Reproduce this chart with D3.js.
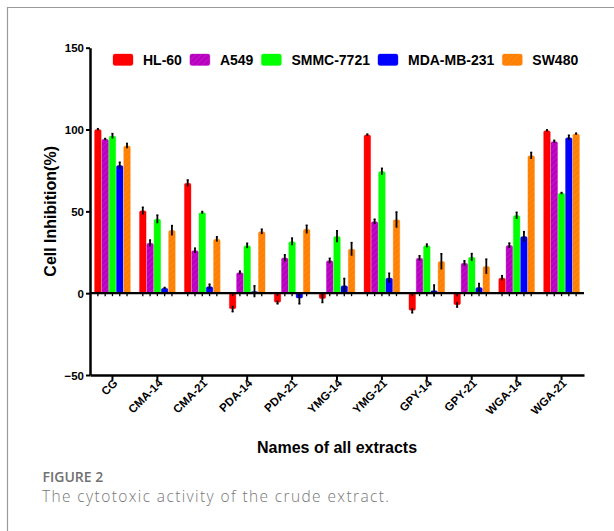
<!DOCTYPE html>
<html>
<head>
<meta charset="utf-8">
<script src="https://cdn.jsdelivr.net/npm/d3@7"></script>
<style>
  html, body { margin: 0; padding: 0; background: #fff; }
  svg { display: block; }
  .axis text { font-family: "Liberation Sans", Arial, sans-serif; font-weight: bold; font-size: 11.5px; fill: #000; }
  .axis path, .axis line { stroke: #000; }
</style>
</head>
<body>
<div id="chart"></div>
<script>
!(function(){
    "use strict"

    // data
    var categories = ["CG","CMA-14","CMA-21","PDA-14","PDA-21","YMG-14","YMG-21","GPY-14","GPY-21","WGA-14","WGA-21"]
    var series = ["HL-60","A549","SMMC-7721","MDA-MB-231","SW480"]
    var colors = ["#ff0000","#b900c0","#00ff00","#0000ff","#ff8000"]

    var hl60     = [100, 50.3, 67.2, -9.5, -5.5, -3.2, 96.7, -10.5, -7, 9.2, 99.3]
    var hl60Err  = [0.5, 2.2, 2, 1.8, 1, 2.5, 0.5, 1.5, 1.5, 1.5, 0.5]
    var a549     = [94, 30.5, 26, 12.5, 21.5, 19.8, 43.7, 21.4, 18.3, 29.1, 92.6]
    var a549Err  = [0.5, 2, 1.5, 1, 2, 1.5, 1.5, 1.5, 1.5, 1.5, 0.8]
    var smmc     = [96, 45.2, 49.2, 29, 31.5, 34.6, 74.3, 29, 22, 47.4, 61]
    var smmcErr  = [1.5, 2.5, 0.7, 1.5, 2.2, 3.5, 2, 1, 2.2, 2, 0.5]
    var mda      = [78, 3, 4, 1, -3, 4.5, 9.2, 1.5, 3.4, 34.6, 95]
    var mdaErr   = [2, 0.5, 1.5, 3.5, 3.5, 4.5, 3, 3.5, 2.5, 3, 1.5]
    var sw480    = [90, 38.3, 33, 37.6, 39, 26.9, 44.8, 19.3, 16.3, 84, 97.3]
    var sw480Err = [1.5, 3, 1.5, 1.5, 2.5, 4, 4.8, 4.8, 4.5, 2, 0.5]

    var yTicks = [-50, 0, 50, 100, 150]

    var values = [hl60, a549, smmc, mda, sw480]
    var errors = [hl60Err, a549Err, smmcErr, mdaErr, sw480Err]

    var width = 614, height = 531
    var svg = d3.select("#chart").append("svg")
        .attr("width", width).attr("height", height)

    // pattern for hatched bars
    var defs = svg.append("defs")
    function hatch(id, base, stripe) {
        var p = defs.append("pattern")
            .attr("id", id)
            .attr("patternUnits", "userSpaceOnUse")
            .attr("width", 4).attr("height", 4)
            .attr("patternTransform", "rotate(45)")
        p.append("rect").attr("width", 4).attr("height", 4).attr("fill", base)
        p.append("line").attr("x1", 0).attr("y1", 0).attr("x2", 0).attr("y2", 4)
            .attr("stroke", stripe).attr("stroke-width", 1)
    }
    hatch("hatch-a549", colors[1], "#c330c8")
    hatch("hatch-sw480", colors[4], "#ff9533")
    var fills = [colors[0], "url(#hatch-a549)", colors[2], colors[3], "url(#hatch-sw480)"]

    // frame
    svg.append("path")
        .attr("d", "M7.5," + height + "V7.5H" + width)
        .attr("fill", "none")
        .attr("stroke", "#9a9a9a")
        .attr("stroke-width", 1.2)

    var x = d3.scaleBand().domain(categories).range([90, 584])
    var x1 = d3.scaleBand().domain(series).range([4.6, x.bandwidth() - 4.6]).paddingInner(0.1)
    var y = d3.scaleLinear().domain([-50, 150]).range([375, 47.7])

    var rows = []
    categories.forEach(function(c, i) {
        series.forEach(function(s, j) {
            rows.push({cat: c, ser: s, j: j, v: values[j][i], e: errors[j][i]})
        })
    })

    var chartLayer = svg.append("g")

    // bars
    chartLayer.selectAll(".bar")
        .data(rows)
        .enter().append("rect")
        .attr("class", "bar")
        .attr("x", function(d) { return x(d.cat) + x1(d.ser) })
        .attr("width", x1.bandwidth())
        .attr("y", function(d) { return y(Math.max(0, d.v)) })
        .attr("height", function(d) { return Math.abs(y(d.v) - y(0)) })
        .attr("rx", 1.5)
        .attr("fill", function(d) { return fills[d.j] })
        .attr("stroke", function(d) { return colors[d.j] })
        .attr("stroke-opacity", 0.45)
        .attr("stroke-width", 0.8)

    // error bars
    var eb = chartLayer.selectAll(".err")
        .data(rows)
        .enter().append("g")
        .attr("class", "err")
        .attr("transform", function(d) { return "translate(" + (x(d.cat) + x1(d.ser) + x1.bandwidth() / 2) + ",0)" })
    eb.append("line")
        .attr("y1", function(d) { return y(d.v + d.e) })
        .attr("y2", function(d) { return y(d.v - d.e) })
        .attr("stroke", "#000").attr("stroke-width", 1.8)
    eb.append("line")
        .attr("x1", -1).attr("x2", 1)
        .attr("y1", function(d) { return y(d.v + (d.v >= 0 ? d.e : -d.e)) })
        .attr("y2", function(d) { return y(d.v + (d.v >= 0 ? d.e : -d.e)) })
        .attr("stroke", "#000").attr("stroke-width", 1.5)
    // small marks under the zero line
    eb.append("line")
        .attr("y1", y(0)).attr("y2", y(0) + 3)
        .attr("stroke", "#000").attr("stroke-width", 1.3)

    // zero line
    chartLayer.append("line")
        .attr("x1", 90).attr("x2", 584)
        .attr("y1", y(0)).attr("y2", y(0))
        .attr("stroke", "#000").attr("stroke-width", 2.2)

    // axes
    var yAxis = svg.append("g").attr("class", "axis")
        .attr("transform", "translate(90,0)")
        .call(d3.axisLeft(y).tickValues(yTicks).tickSize(4).tickSizeOuter(0).tickPadding(2))
    yAxis.select(".domain").attr("stroke-width", 2.5)
    yAxis.selectAll(".tick line").attr("stroke-width", 2)
    yAxis.selectAll(".tick text").attr("dy", "0.36em")

    var xAxis = svg.append("g").attr("class", "axis")
        .attr("transform", "translate(0,375)")
        .call(d3.axisBottom(x).tickSize(5).tickSizeOuter(0))
    xAxis.select(".domain").attr("stroke-width", 2.5)
    xAxis.selectAll(".tick line").attr("stroke-width", 2)
    xAxis.selectAll(".tick text")
        .attr("text-anchor", "end")
        .attr("transform", "translate(3,6) rotate(-45)")
        .attr("x", 0).attr("y", 0).attr("dy", "0.35em")

    // axis titles
    svg.append("text")
        .attr("transform", "translate(56," + ((y(150) + y(-50)) / 2) + ") rotate(-90)")
        .attr("text-anchor", "middle")
        .style("font-family", "'Liberation Sans', Arial, sans-serif")
        .style("font-weight", "bold").style("font-size", "16px")
        .text("Cell Inhibition(%)")

    svg.append("text")
        .attr("x", (90 + 584) / 2).attr("y", 453)
        .attr("text-anchor", "middle")
        .style("font-family", "'Liberation Sans', Arial, sans-serif")
        .style("font-weight", "bold").style("font-size", "16px")
        .text("Names of all extracts")

    // legend
    var legend = svg.append("g").attr("transform", "translate(113,54)")
    var lx = 0
    series.forEach(function(s, j) {
        var item = legend.append("g").attr("transform", "translate(" + lx + ",0)")
        item.append("rect")
            .attr("width", 20).attr("height", 11.5).attr("rx", 2)
            .attr("fill", fills[j])
            .attr("stroke", colors[j]).attr("stroke-opacity", 0.4).attr("stroke-width", 0.8)
        var t = item.append("text")
            .attr("x", 30).attr("y", 11)
            .style("font-family", "'Liberation Sans', Arial, sans-serif")
            .style("font-weight", "bold").style("font-size", "14px")
            .text(s)
        lx += 30 + t.node().getComputedTextLength() + 8
    })

    // caption
    svg.append("text")
        .attr("x", 42.5).attr("y", 482.3)
        .style("font-family", "'Open Sans', sans-serif")
        .style("font-weight", 600)
        .style("font-size", "14px").style("fill", "#707070")
        .text("FIGURE 2")
    svg.append("text")
        .attr("x", 42).attr("y", 502.3)
        .attr("textLength", 347).attr("lengthAdjust", "spacing")
        .style("font-family", "'Open Sans', sans-serif")
        .style("font-weight", 300)
        .style("font-size", "15.5px").style("fill", "#777")
        .text("The cytotoxic activity of the crude extract.")
}());
</script>
</body>
</html>
